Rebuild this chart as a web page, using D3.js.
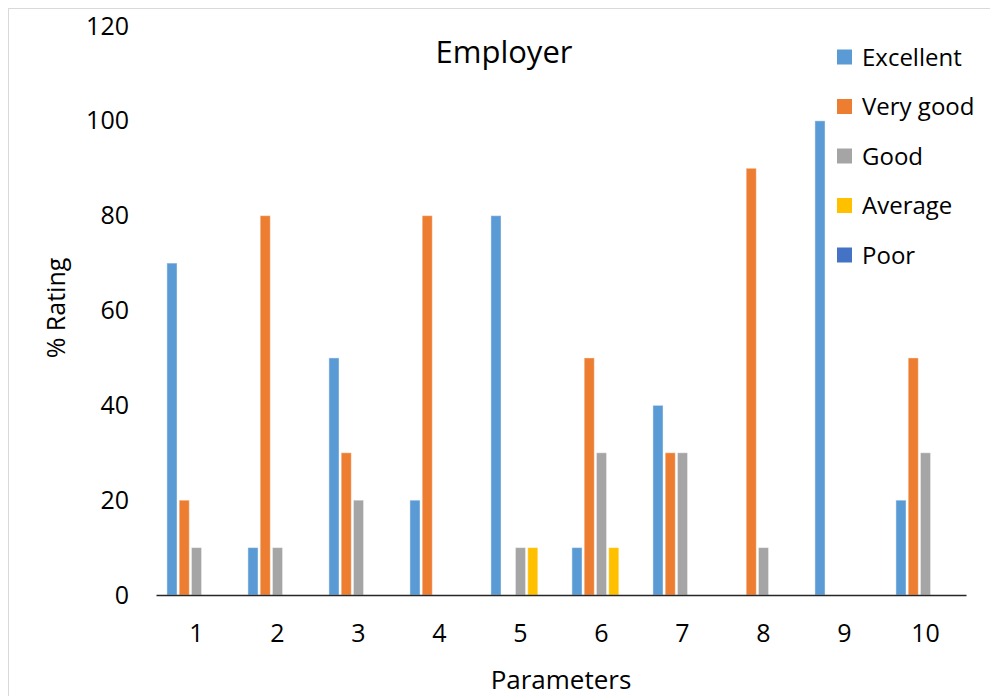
<!DOCTYPE html>
<html>
<head>
<meta charset="utf-8">
<script src="https://cdn.jsdelivr.net/npm/d3@7"></script>
<style>
  html, body { margin: 0; padding: 0; background: #fff; }
  svg { display: block; font-family: "Open Sans", sans-serif; }
</style>
</head>
<body>
<svg id="chart" width="990" height="696"></svg>
<script>
const categories = ["1", "2", "3", "4", "5", "6", "7", "8", "9", "10"];
const seriesNames = ["Excellent", "Very good", "Good", "Average", "Poor"];
const excellent = [70, 10, 50, 20, 80, 10, 40, 0, 100, 20];
const veryGood  = [20, 80, 30, 80, 0, 50, 30, 90, 0, 50];
const good      = [10, 10, 20, 0, 10, 30, 30, 10, 0, 30];
const average   = [0, 0, 0, 0, 10, 10, 0, 0, 0, 0];
const poor      = [0, 0, 0, 0, 0, 0, 0, 0, 0, 0];
const yTicks = [0, 20, 40, 60, 80, 100, 120];
const colors = ["#5B9BD5", "#ED7D31", "#A5A5A5", "#FFC000", "#4472C4"];
const titleText = "Employer";
const xTitle = "Parameters";
const yTitle = "% Rating";

const seriesValues = [excellent, veryGood, good, average, poor];

const svg = d3.select("#chart");

// chart border (left/top visible)
svg.append("rect")
  .attr("x", 8.5).attr("y", 8.5)
  .attr("width", 1000).attr("height", 720)
  .attr("fill", "none").attr("stroke", "#d9d9d9").attr("stroke-width", 1);

const x = d3.scaleBand().domain(categories).range([156, 966]).padding(0);
const xInner = d3.scaleBand().domain(seriesNames)
  .range([0, x.bandwidth()]).paddingInner(0.175).paddingOuter(0.89);
const y = d3.scaleLinear().domain([0, 120]).range([595, 26]);
const color = d3.scaleOrdinal().domain(seriesNames).range(colors);

// bars
const data = [];
categories.forEach((c, i) => {
  seriesNames.forEach((s, j) => {
    data.push({ cat: c, series: s, value: seriesValues[j][i] });
  });
});

svg.append("g").selectAll("rect")
  .data(data.filter(d => d.value > 0))
  .join("rect")
  .attr("x", d => x(d.cat) + xInner(d.series))
  .attr("y", d => y(d.value))
  .attr("width", xInner.bandwidth())
  .attr("height", d => y(0) - y(d.value))
  .attr("fill", d => color(d.series))
  .attr("stroke", "#ffffff")
  .attr("stroke-opacity", 0.45)
  .attr("stroke-width", 1);

// y axis labels
const yAxis = svg.append("g")
  .attr("transform", "translate(156,0)")
  .call(d3.axisLeft(y).tickValues(yTicks).tickSize(0).tickPadding(27).tickFormat(d3.format("d")));
yAxis.select(".domain").remove();
yAxis.selectAll("text")
  .attr("font-family", "Open Sans")
  .attr("font-size", 25)
  .attr("fill", "#000");

// x axis
const xAxis = svg.append("g")
  .attr("transform", "translate(0," + y(0) + ")")
  .call(d3.axisBottom(x).tickSize(0).tickPadding(29));
xAxis.select(".domain")
  .attr("stroke", "#262626")
  .attr("stroke-width", 1.6);
xAxis.selectAll("text")
  .attr("font-family", "Open Sans")
  .attr("font-size", 25)
  .attr("fill", "#000");

// title
svg.append("text")
  .attr("x", 504).attr("y", 63)
  .attr("text-anchor", "middle")
  .attr("font-size", 31)
  .attr("fill", "#000")
  .text(titleText);

// axis titles
svg.append("text")
  .attr("x", 561).attr("y", 689)
  .attr("text-anchor", "middle")
  .attr("font-size", 26)
  .attr("fill", "#000")
  .text(xTitle);

svg.append("text")
  .attr("transform", "translate(65,308) rotate(-90)")
  .attr("text-anchor", "middle")
  .attr("font-size", 25)
  .attr("fill", "#000")
  .text(yTitle);

// legend
const legend = svg.append("g").selectAll("g")
  .data(seriesNames)
  .join("g")
  .attr("transform", (d, i) => "translate(837," + (57 + i * 49.5) + ")");
legend.append("rect")
  .attr("x", 0).attr("y", -7.5)
  .attr("width", 15).attr("height", 15)
  .attr("fill", d => color(d));
legend.append("text")
  .attr("x", 25).attr("y", 8.5)
  .attr("font-size", 24)
  .attr("fill", "#000")
  .text(d => d);
</script>
</body>
</html>
